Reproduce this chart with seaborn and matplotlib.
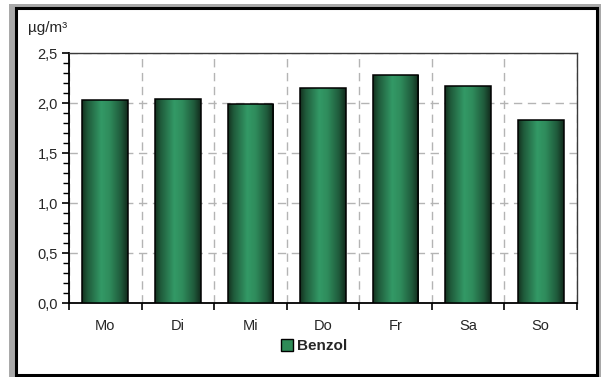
import numpy as np
import pandas as pd
import matplotlib
matplotlib.use("Agg")
import matplotlib.pyplot as plt
from matplotlib.patches import Rectangle, Patch
from matplotlib.colors import LinearSegmentedColormap
import seaborn as sns

# Weekly mean benzene concentration by weekday
days = ["Mo", "Di", "Mi", "Do", "Fr", "Sa", "So"]
benzol = [2.03, 2.04, 1.99, 2.15, 2.28, 2.17, 1.83]
y_ticks = [0.0, 0.5, 1.0, 1.5, 2.0, 2.5]
y_tick_labels = ["0,0", "0,5", "1,0", "1,5", "2,0", "2,5"]
unit_label = "µg/m³"
series_name = "Benzol"

sns.set_theme(style="white")
plt.rcParams["font.family"] = ["Liberation Sans", "DejaVu Sans"]

W, H = 601, 377
fig = plt.figure(figsize=(W / 100, H / 100), dpi=100)
fig.patch.set_facecolor("white")

# outer shadow frame and white card with black border
fig.patches.append(Rectangle((9 / W, 0), 1 - 9 / W, 1 - 4 / H,
                             transform=fig.transFigure, facecolor="#a9a9a9",
                             edgecolor="none", zorder=-3))
fig.patches.append(Rectangle((15.5 / W, 2 / H), (596.5 - 15.5) / W, 367 / H,
                             transform=fig.transFigure, facecolor="white",
                             edgecolor="black", linewidth=2.2, zorder=-2))

ax = fig.add_axes([69 / W, 1 - 303.3 / H, (577 - 69) / W, (303.3 - 53.3) / H])
ax.set_facecolor("white")

df = pd.DataFrame({"Tag": days, "Benzol": benzol})
sns.barplot(data=df, x="Tag", y="Benzol", color="#2e8b57", width=0.63,
            edgecolor="black", linewidth=1.1, ax=ax, zorder=3)

# cylinder-style horizontal shading on each bar
shade = LinearSegmentedColormap.from_list(
    "cyl", [(0.0, "#14301f"), (0.12, "#1f5a3a"), (0.42, "#339966"),
            (0.6, "#2f8c5c"), (0.85, "#1f5a3b"), (1.0, "#122a1c")])
grad = np.linspace(0, 1, 256).reshape(1, -1)
for p in ax.patches:
    x0, y0 = p.get_x(), p.get_y()
    w, h = p.get_width(), p.get_height()
    im = ax.imshow(grad, cmap=shade, extent=(x0, x0 + w, y0, y0 + h),
                   aspect="auto", origin="lower", zorder=3, interpolation="bilinear")
    im.set_clip_path(p)
    p.set_facecolor("none")
    p.set_zorder(4)

ax.set_xlim(-0.5, len(days) - 0.5)
ax.set_ylim(0, 2.5)
ax.set_xlabel("")
ax.set_ylabel("")

tick_fs = 10.5

# y axis: major ticks with comma decimals, minor ticks every 0.1
ax.set_yticks(y_ticks)
ax.set_yticklabels(y_tick_labels, fontsize=tick_fs)
ax.set_yticks(np.arange(0, 2.51, 0.1), minor=True)
ax.tick_params(axis="y", which="major", direction="out", length=5, width=1.2,
               color="black", pad=3, left=True)
ax.tick_params(axis="y", which="minor", direction="out", length=4, width=1,
               color="black", left=True)

# x axis: labels at categories, tick marks between categories
ax.set_xticks(range(len(days)))
ax.set_xticklabels(days, fontsize=tick_fs)
ax.set_xticks(np.arange(-0.5, len(days), 1.0), minor=True)
ax.tick_params(axis="x", which="major", length=0, pad=11)
ax.tick_params(axis="x", which="minor", direction="out", length=5, width=1.2,
               color="black", bottom=True)

# dashed grid
ax.set_axisbelow(True)
ax.grid(False)
ax.yaxis.grid(True, which="major", color="#b4b4b4", linestyle=(0, (6, 4)), linewidth=1)
ax.xaxis.grid(True, which="minor", color="#b4b4b4", linestyle=(0, (6, 4)), linewidth=1)

for side in ["left", "bottom"]:
    ax.spines[side].set_color("black")
    ax.spines[side].set_linewidth(1.3)
for side in ["top", "right"]:
    ax.spines[side].set_visible(True)
    ax.spines[side].set_color("#3a3a3a")
    ax.spines[side].set_linewidth(1.0)

fig.text(28 / W, 1 - 28 / H, unit_label, fontsize=11, ha="left", va="center")

handle = Patch(facecolor="#2e8b57", edgecolor="black", linewidth=1)
leg = fig.legend([handle], [series_name], loc="center",
                 bbox_to_anchor=(314 / W, 1 - 346 / H), frameon=False,
                 handlelength=0.8, handleheight=0.8, handletextpad=0.25,
                 prop={"weight": "bold", "size": 11})

fig.savefig("out.png", dpi=100)
